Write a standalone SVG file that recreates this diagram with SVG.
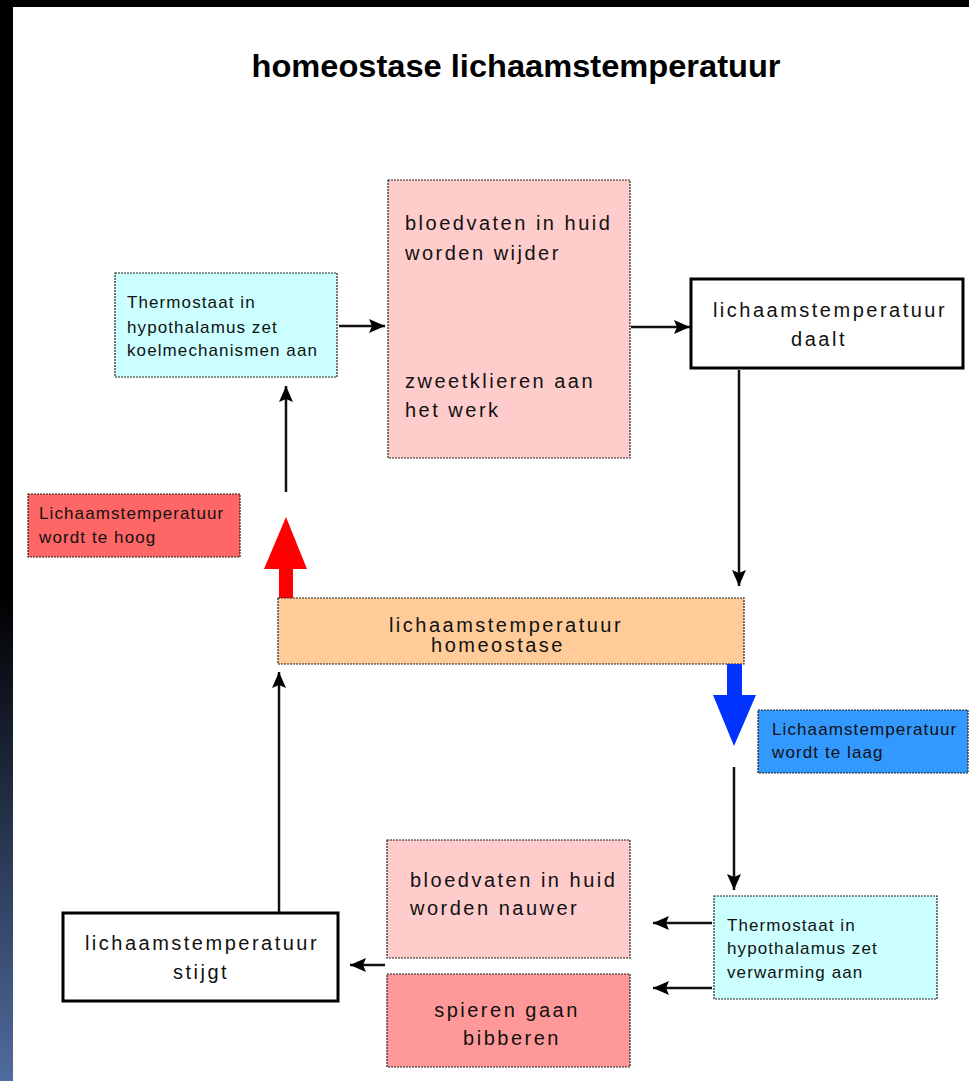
<svg xmlns="http://www.w3.org/2000/svg" width="969" height="1081" viewBox="0 0 969 1081">
<style>
.box{stroke:#222;stroke-width:1.2;stroke-dasharray:2 1}
.wbox{fill:#fff;stroke:#000;stroke-width:3}
.big{font-family:"Liberation Sans",Arial,sans-serif;font-size:20px;letter-spacing:2.5px;fill:#111}
.sm{font-family:"Liberation Sans",Arial,sans-serif;font-size:17px;letter-spacing:1.1px;fill:#111}
.c{text-anchor:middle}
.con line{stroke:#111;stroke-width:2.5;marker-end:url(#ah)}
</style>
<defs>
<marker id="ah" markerUnits="userSpaceOnUse" markerWidth="16" markerHeight="14" refX="16" refY="7" orient="auto">
<path d="M0,0 L16,7 L0,14 L3,7 z" fill="#000"/>
</marker>
<linearGradient id="strip" x1="0" y1="0" x2="0" y2="1">
<stop offset="0" stop-color="#000"/>
<stop offset="0.55" stop-color="#000"/>
<stop offset="1" stop-color="#506b9e"/>
</linearGradient>
</defs>
<rect x="0" y="0" width="969" height="1081" fill="#fff"/>
<rect x="0" y="0" width="969" height="7" fill="#000"/>
<rect x="0" y="0" width="13" height="1081" fill="url(#strip)"/>
<text x="516" y="77" text-anchor="middle" font-family="Liberation Sans,Arial,sans-serif" font-weight="bold" font-size="31" textLength="529" lengthAdjust="spacingAndGlyphs" fill="#000">homeostase lichaamstemperatuur</text>

<g id="cyan1">
<rect class="box" x="115" y="273" width="222" height="104" fill="#ccffff"/>
<text class="sm" x="127" y="308">Thermostaat in</text>
<text class="sm" x="127" y="333">hypothalamus zet</text>
<text class="sm" x="127" y="356">koelmechanismen aan</text>
</g>
<g id="pink1">
<rect class="box" x="388" y="180" width="242" height="278" fill="#ffcccc"/>
<text class="big" x="405" y="230">bloedvaten in huid</text>
<text class="big" x="405" y="260">worden wijder</text>
<text class="big" x="405" y="388">zweetklieren aan</text>
<text class="big" x="405" y="417">het werk</text>
</g>
<g id="daalt">
<rect class="wbox" x="691" y="279" width="272" height="89"/>
<text class="big c" x="830" y="317">lichaamstemperatuur</text>
<text class="big c" x="819" y="346">daalt</text>
</g>
<g id="hoog">
<rect class="box" x="28" y="494" width="212" height="63" fill="#ff6666"/>
<text class="sm" x="39" y="519">Lichaamstemperatuur</text>
<text class="sm" x="39" y="543">wordt te hoog</text>
</g>
<g id="redarrow">
<path d="M279,600 L279,569 L264,569 L286,517 L307,569 L293,569 L293,600 z" fill="#ff0000"/>
</g>
<g id="homeostase">
<rect class="box" x="278" y="598" width="466" height="66" fill="#ffcc99"/>
<text class="big c" x="506" y="632">lichaamstemperatuur</text>
<text class="big c" x="498" y="652">homeostase</text>
</g>
<g id="bluearrow">
<path d="M727,664 L727,695 L713,695 L734,746 L756,695 L742,695 L742,664 z" fill="#0033ff"/>
</g>
<g id="laag">
<rect class="box" x="758" y="710" width="210" height="63" fill="#3399ff"/>
<text class="sm" x="772" y="735">Lichaamstemperatuur</text>
<text class="sm" x="772" y="758">wordt te laag</text>
</g>
<g id="cyan2">
<rect class="box" x="714" y="896" width="223" height="103" fill="#ccffff"/>
<text class="sm" x="727" y="931">Thermostaat in</text>
<text class="sm" x="727" y="954">hypothalamus zet</text>
<text class="sm" x="727" y="978">verwarming aan</text>
</g>
<g id="pink2">
<rect class="box" x="387" y="840" width="243" height="118" fill="#ffcccc"/>
<text class="big" x="410" y="887">bloedvaten in huid</text>
<text class="big" x="410" y="915">worden nauwer</text>
</g>
<g id="pink3">
<rect class="box" x="387" y="974" width="243" height="93" fill="#ff9999"/>
<text class="big c" x="507" y="1017">spieren gaan</text>
<text class="big c" x="512" y="1045">bibberen</text>
</g>
<g id="stijgt">
<rect class="wbox" x="63" y="913" width="275" height="88"/>
<text class="big c" x="202" y="950">lichaamstemperatuur</text>
<text class="big c" x="201" y="979">stijgt</text>
</g>

<g id="connectors" class="con">
<line x1="339" y1="326" x2="385" y2="326"/>
<line x1="631" y1="327" x2="690" y2="327"/>
<line x1="739" y1="370" x2="739" y2="586"/>
<line x1="286" y1="492" x2="286" y2="386"/>
<line x1="734" y1="767" x2="734" y2="890"/>
<line x1="712" y1="923" x2="653" y2="923"/>
<line x1="712" y1="988" x2="653" y2="988"/>
<line x1="385" y1="965" x2="350" y2="965"/>
<line x1="279" y1="912" x2="279" y2="672"/>
</g>
</svg>
